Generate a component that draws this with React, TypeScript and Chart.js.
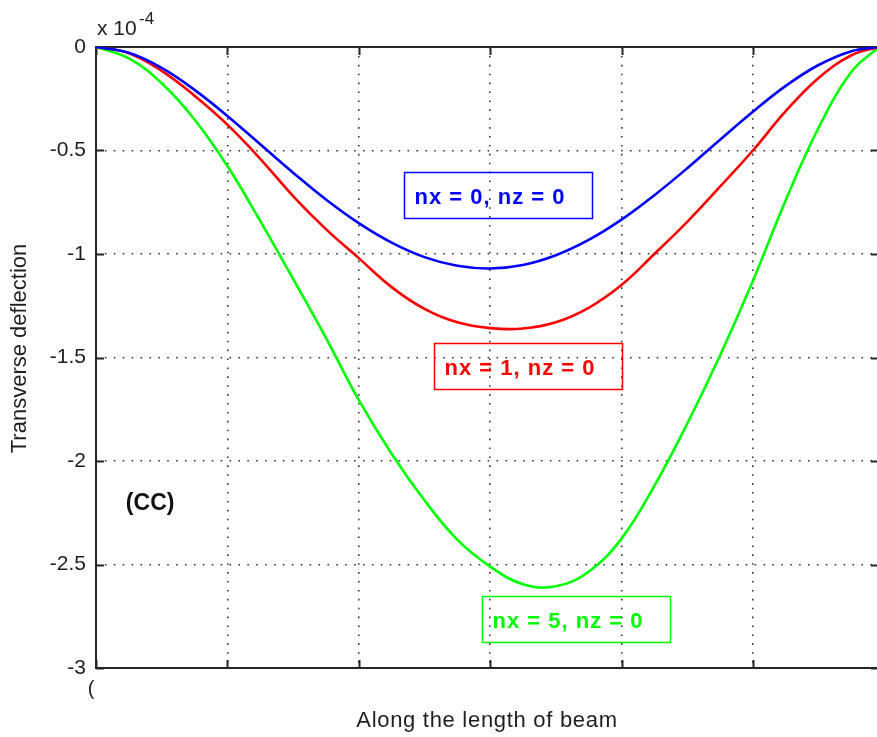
import React, { useEffect, useRef } from 'react';
import { Chart, registerables } from 'chart.js';

Chart.register(...registerables);

// Position along the beam (grid units)
const xPositions = [0, 0.25, 0.5, 0.75, 1, 1.25, 1.5, 1.75, 2, 2.25, 2.5, 2.75, 3, 3.25, 3.5, 3.75, 4, 4.25, 4.5, 4.75, 5, 5.25, 5.5, 5.75, 5.96];

// Transverse deflection (x 10^-4)
const nx0Values = [0, -0.028, -0.101, -0.207, -0.333, -0.470, -0.607, -0.737, -0.851, -0.945, -1.015, -1.057, -1.070, -1.053, -1.006, -0.932, -0.834, -0.716, -0.586, -0.448, -0.313, -0.188, -0.087, -0.020, 0];
const nx1Values = [0, -0.030, -0.115, -0.235, -0.375, -0.540, -0.720, -0.880, -1.020, -1.160, -1.265, -1.330, -1.358, -1.360, -1.330, -1.260, -1.150, -1.000, -0.845, -0.675, -0.500, -0.310, -0.150, -0.040, 0];
const nx5Values = [0, -0.055, -0.175, -0.350, -0.575, -0.840, -1.120, -1.405, -1.705, -1.965, -2.190, -2.380, -2.510, -2.595, -2.605, -2.535, -2.375, -2.120, -1.820, -1.490, -1.130, -0.740, -0.390, -0.120, 0];

const xMax = 5.96;
const xGridTicks = [0, 1, 2, 3, 4, 5];
const yTicks = [0, -0.5, -1, -1.5, -2, -2.5, -3];

const seriesLabels = ['nx = 0, nz = 0', 'nx = 1, nz = 0', 'nx = 5, nz = 0'];
const seriesColors = ['#0000ff', '#ff0000', '#00ff00'];
// annotation box anchors (top-left corner, data coordinates)
const boxX = [2.344, 2.573, 2.939];
const boxY = [-0.604, -1.430, -2.652];

const xTitle = 'Along the length of beam';
const yTitle = 'Transverse deflection';
const caseLabel = '(CC)';
const caseX = 0.412;
const caseY = -2.208;

const FONT = "'Liberation Sans', Arial, Helvetica, sans-serif";

const decorPlugin = {
  id: 'decor',
  beforeDatasetsDraw(chart: any) {
    const { ctx, chartArea: a, scales } = chart;
    ctx.save();
    ctx.strokeStyle = '#262626';
    ctx.lineWidth = 2;
    ctx.setLineDash([]);
    ctx.strokeRect(a.left, a.top, a.right - a.left, a.bottom - a.top);
    ctx.beginPath();
    xGridTicks.forEach((v) => {
      const px = Math.round(scales.x.getPixelForValue(v)) + 0.5;
      ctx.moveTo(px, a.top);
      ctx.lineTo(px, a.top + 8);
      ctx.moveTo(px, a.bottom);
      ctx.lineTo(px, a.bottom - 8);
    });
    yTicks.forEach((v) => {
      const py = Math.round(scales.y.getPixelForValue(v)) + 0.5;
      ctx.moveTo(a.left, py);
      ctx.lineTo(a.left + 8, py);
      ctx.moveTo(a.right, py);
      ctx.lineTo(a.right - 8, py);
    });
    ctx.stroke();
    ctx.restore();
  },
  afterDraw(chart: any) {
    const { ctx, chartArea: a, scales } = chart;
    ctx.save();
    ctx.fillStyle = '#1f1f1f';
    // exponent label
    ctx.font = `21px ${FONT}`;
    ctx.textAlign = 'left';
    ctx.textBaseline = 'alphabetic';
    ctx.fillText('x 10', a.left + 1, a.top - 12);
    ctx.font = `17px ${FONT}`;
    ctx.fillText('-4', a.left + 43, a.top - 23);
    // clipped x tick label
    ctx.font = `20px ${FONT}`;
    ctx.textAlign = 'center';
    ctx.textBaseline = 'middle';
    ctx.fillText('(', a.left - 5, a.bottom + 21);
    // x title
    ctx.font = `22px ${FONT}`;
    (ctx as any).letterSpacing = '0.7px';
    ctx.textAlign = 'center';
    ctx.textBaseline = 'alphabetic';
    ctx.fillText(xTitle, 487, a.bottom + 59);
    (ctx as any).letterSpacing = '0px';
    // y title
    ctx.save();
    ctx.translate(20, (a.top + a.bottom) / 2 - 9);
    ctx.rotate(-Math.PI / 2);
    ctx.font = `22px ${FONT}`;
    ctx.textAlign = 'center';
    ctx.textBaseline = 'middle';
    ctx.fillText(yTitle, 0, 0);
    ctx.restore();
    // annotation boxes
    seriesLabels.forEach((label, i) => {
      const bx = Math.round(scales.x.getPixelForValue(boxX[i])) + 0.5;
      const by = Math.round(scales.y.getPixelForValue(boxY[i])) + 0.5;
      ctx.strokeStyle = seriesColors[i];
      ctx.lineWidth = 1.5;
      ctx.strokeRect(bx, by, 188, 46);
      ctx.fillStyle = seriesColors[i];
      ctx.font = `bold 22px ${FONT}`;
      (ctx as any).letterSpacing = '1px';
      ctx.textAlign = 'left';
      ctx.textBaseline = 'middle';
      ctx.fillText(label, bx + 10, by + 25);
      (ctx as any).letterSpacing = '0px';
    });
    // case label
    ctx.fillStyle = '#111';
    ctx.font = `bold 23px ${FONT}`;
    ctx.textAlign = 'center';
    ctx.textBaseline = 'middle';
    ctx.fillText(caseLabel, scales.x.getPixelForValue(caseX), scales.y.getPixelForValue(caseY));
    ctx.restore();
  },
};

export default function App() {
  const ref = useRef<HTMLCanvasElement>(null);
  useEffect(() => {
    const series = [nx0Values, nx1Values, nx5Values];
    const chart = new Chart(ref.current as HTMLCanvasElement, {
      type: 'line',
      data: {
        datasets: series.map((vals, i) => ({
          label: seriesLabels[i],
          data: xPositions.map((x, j) => ({ x, y: vals[j] })),
          borderColor: seriesColors[i],
          borderWidth: 2.6,
          pointRadius: 0,
          fill: false,
          tension: 0.4,
        })),
      },
      options: {
        animation: false,
        responsive: false,
        devicePixelRatio: 1,
        layout: { padding: { left: 0, top: 47, right: 3, bottom: 0 } },
        plugins: { legend: { display: false }, tooltip: { enabled: false } },
        scales: {
          x: {
            type: 'linear',
            min: 0,
            max: xMax,
            afterFit: (s: any) => { s.height = 69; },
            afterBuildTicks: (s: any) => { s.ticks = xGridTicks.map((v) => ({ value: v })); },
            ticks: { display: false },
            grid: { color: 'rgba(20,20,20,0.85)', lineWidth: 1.6, drawTicks: false },
            border: { display: false, dash: [1.6, 7.3] },
          },
          y: {
            type: 'linear',
            min: -3,
            max: 0,
            afterFit: (s: any) => { s.width = 96; },
            afterBuildTicks: (s: any) => { s.ticks = yTicks.map((v) => ({ value: v })); },
            ticks: {
              padding: 10,
              color: '#1f1f1f',
              font: { family: FONT, size: 21 },
              callback: (v: any) => String(v),
            },
            grid: { color: 'rgba(20,20,20,0.85)', lineWidth: 1.6, drawTicks: false },
            border: { display: false, dash: [1.6, 7.3] },
          },
        },
      },
      plugins: [decorPlugin],
    } as any);
    return () => chart.destroy();
  }, []);
  return (
    <div style={{ position: 'fixed', left: 0, top: 0, width: 877, height: 737, overflow: 'hidden', background: '#fff' }}>
      <canvas ref={ref} width={882} height={737} style={{ display: 'block', width: 882, height: 737 }} />
    </div>
  );
}
